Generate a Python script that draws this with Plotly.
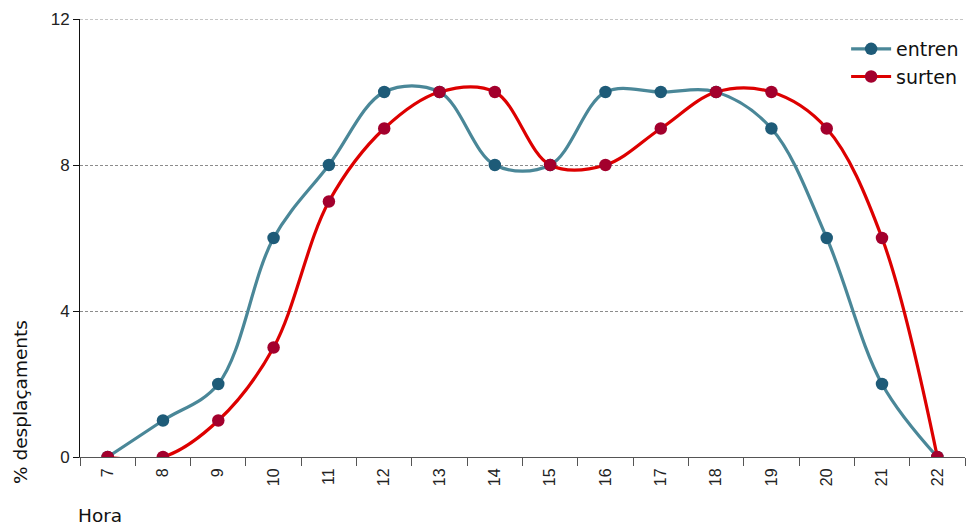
import plotly.graph_objects as go

hores = ["7", "8", "9", "10", "11", "12", "13", "14", "15", "16", "17", "18", "19", "20", "21", "22"]
entren = [0, 1, 2, 6, 8, 10, 10, 8, 8, 10, 10, 10, 9, 6, 2, 0]
surten = [0, 0, 1, 3, 7, 9, 10, 10, 8, 8, 9, 10, 10, 9, 6, 0]
y_ticks = [0, 4, 8, 12]

fig = go.Figure()
fig.add_trace(go.Scatter(
    x=hores, y=entren, name="entren", mode="lines+markers",
    line=dict(color="#4A8798", width=3.2, shape="spline", smoothing=1),
    marker=dict(color="#1E5B78", size=12.5),
))
fig.add_trace(go.Scatter(
    x=hores, y=surten, name="surten", mode="lines+markers",
    line=dict(color="#DD0000", width=3.2, shape="spline", smoothing=1),
    marker=dict(color="#A3002D", size=12.5),
))

grid_dash = "3px,2px"

fig.update_layout(
    width=968, height=525,
    margin=dict(l=80, r=3, t=19, b=68, autoexpand=False),
    plot_bgcolor="white", paper_bgcolor="white",
    font=dict(family="DejaVu Sans", color="#111"),
    showlegend=True,
    legend=dict(x=0.999, y=0.975, xanchor="right", yanchor="top",
                font=dict(size=19, family="DejaVu Sans", color="#111"),
                bgcolor="rgba(0,0,0,0)", tracegroupgap=0, itemwidth=40),
    xaxis=dict(
        type="category", tickson="boundaries", range=[-0.5, 15.5],
        showgrid=False, showline=True, linecolor="#555", linewidth=1,
        ticks="outside", ticklen=8, tickcolor="#555",
        tickangle=-90, ticklabelstandoff=4,
        tickfont=dict(family="Liberation Sans", size=16, color="#222"),
        zeroline=False,
    ),
    yaxis=dict(
        range=[0, 12], tickvals=y_ticks,
        showgrid=True, gridcolor="#8c8c8c", griddash=grid_dash, gridwidth=1,
        showline=True, linecolor="#111", linewidth=1,
        ticks="outside", ticklen=6, tickcolor="#111",
        tickfont=dict(family="Liberation Sans", size=17, color="#222"),
        zeroline=False,
    ),
)

# dashed gridline along the top of the value axis
fig.add_shape(type="line", xref="paper", yref="y", x0=0, x1=1, y0=12, y1=12,
              line=dict(color="#8c8c8c", width=1, dash=grid_dash), layer="below")

# axis titles placed in pixel terms relative to the plot area
w_plot = 968 - 80 - 3
h_plot = 525 - 19 - 68
fig.add_annotation(text="% desplaçaments", xref="paper", yref="paper",
                   x=(20 - 80) / w_plot, y=(457 - 402) / h_plot,
                   showarrow=False, textangle=-90, font=dict(size=18.5),
                   xanchor="center", yanchor="middle")
fig.add_annotation(text="Hora", xref="paper", yref="paper",
                   x=(76 - 80) / w_plot, y=(457 - 515) / h_plot,
                   showarrow=False, font=dict(size=18.5),
                   xanchor="left", yanchor="middle")

fig.write_html("out.html")
